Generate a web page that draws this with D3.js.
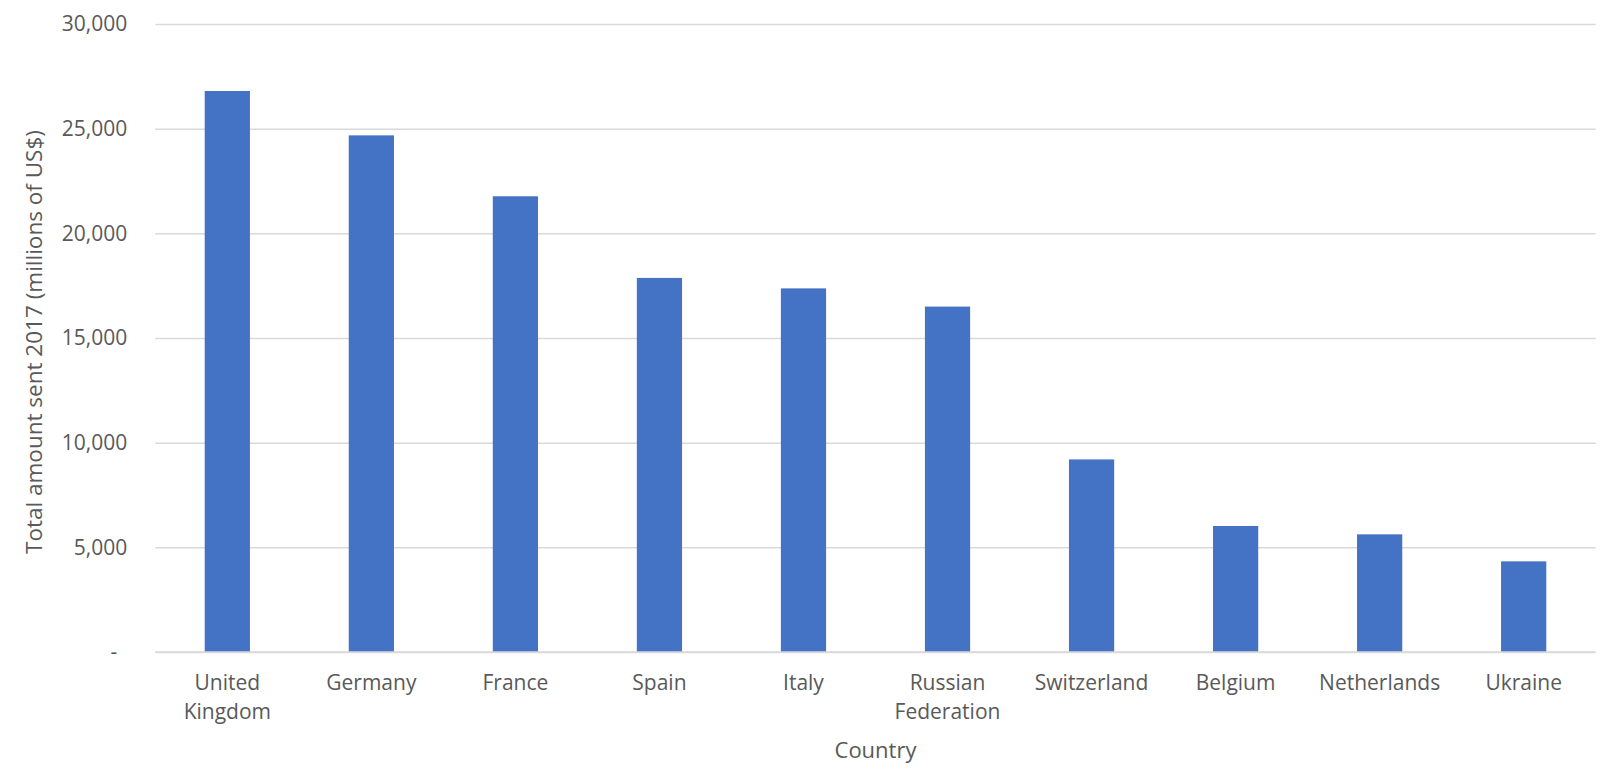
<!DOCTYPE html>
<html>
<head>
<meta charset="utf-8">
<script src="https://cdn.jsdelivr.net/npm/d3@7"></script>
<style>
  html, body { margin: 0; padding: 0; background: #ffffff; }
  svg { display: block; font-family: "Open Sans", sans-serif; }
</style>
</head>
<body>
<svg id="chart" width="1602" height="771"></svg>
<script>
// Remittances sent in 2017, by country (millions of US$)
const countries = ["United Kingdom", "Germany", "France", "Spain", "Italy",
  "Russian Federation", "Switzerland", "Belgium", "Netherlands", "Ukraine"];
const amounts = [26800, 24680, 21770, 17870, 17370, 16500, 9200, 6020, 5620, 4330];
const yTicks = [0, 5000, 10000, 15000, 20000, 25000, 30000];
const xTitle = "Country";
const yTitle = "Total amount sent 2017 (millions of US$)";

const margin = { top: 24, right: 6.3, bottom: 119, left: 155.3 };
const W = 1602, H = 771;
const innerW = W - margin.left - margin.right;
const innerH = H - margin.top - margin.bottom;
const textColor = "#595959";
const gridColor = "#d9d9d9";

const svg = d3.select("#chart");
const g = svg.append("g").attr("transform", `translate(${margin.left},${margin.top})`);

const x = d3.scaleBand().domain(countries).range([0, innerW]).paddingInner(0.686).paddingOuter(0.343);
const y = d3.scaleLinear().domain([0, 30000]).range([innerH, 0]);

// Horizontal gridlines + value labels
const yAxis = g.append("g")
  .call(d3.axisLeft(y).tickValues(yTicks).tickSize(-innerW).tickPadding(28)
    .tickFormat(d => d === 0 ? "-" : d3.format(",")(d)));
yAxis.select(".domain").remove();
yAxis.selectAll(".tick line").attr("stroke", gridColor).attr("stroke-width", 1.5);
yAxis.selectAll(".tick text")
  .attr("fill", textColor)
  .attr("font-size", 21)
  .attr("font-family", "'Open Sans', sans-serif")
  .filter(d => d === 0).attr("x", -38);

// Bars
g.selectAll("rect.bar")
  .data(countries)
  .join("rect")
  .attr("class", "bar")
  .attr("x", d => x(d))
  .attr("width", x.bandwidth())
  .attr("y", (d, i) => y(amounts[i]))
  .attr("height", (d, i) => innerH - y(amounts[i]))
  .attr("fill", "#4472c4");

// Category axis baseline
g.append("line")
  .attr("x1", 0).attr("x2", innerW)
  .attr("y1", innerH).attr("y2", innerH)
  .attr("stroke", gridColor).attr("stroke-width", 1.5);

// Category labels, wrapped onto two lines where needed
const wrapped = {
  "United Kingdom": ["United", "Kingdom"],
  "Russian Federation": ["Russian", "Federation"]
};
const labels = g.append("g").selectAll("text")
  .data(countries)
  .join("text")
  .attr("x", d => x(d) + x.bandwidth() / 2)
  .attr("y", innerH + 38)
  .attr("text-anchor", "middle")
  .attr("fill", textColor)
  .attr("font-size", 21);
labels.each(function (d) {
  const lines = wrapped[d] || [d];
  const t = d3.select(this);
  lines.forEach((line, i) => {
    t.append("tspan")
      .attr("x", x(d) + x.bandwidth() / 2)
      .attr("dy", i === 0 ? 0 : 28.5)
      .text(line);
  });
});

// Axis titles
svg.append("text")
  .attr("x", margin.left + innerW / 2)
  .attr("y", 758)
  .attr("text-anchor", "middle")
  .attr("fill", textColor)
  .attr("font-size", 22)
  .text(xTitle);

svg.append("text")
  .attr("transform", "translate(42,342) rotate(-90)")
  .attr("text-anchor", "middle")
  .attr("fill", textColor)
  .attr("font-size", 22.5)
  .text(yTitle);
</script>
</body>
</html>
